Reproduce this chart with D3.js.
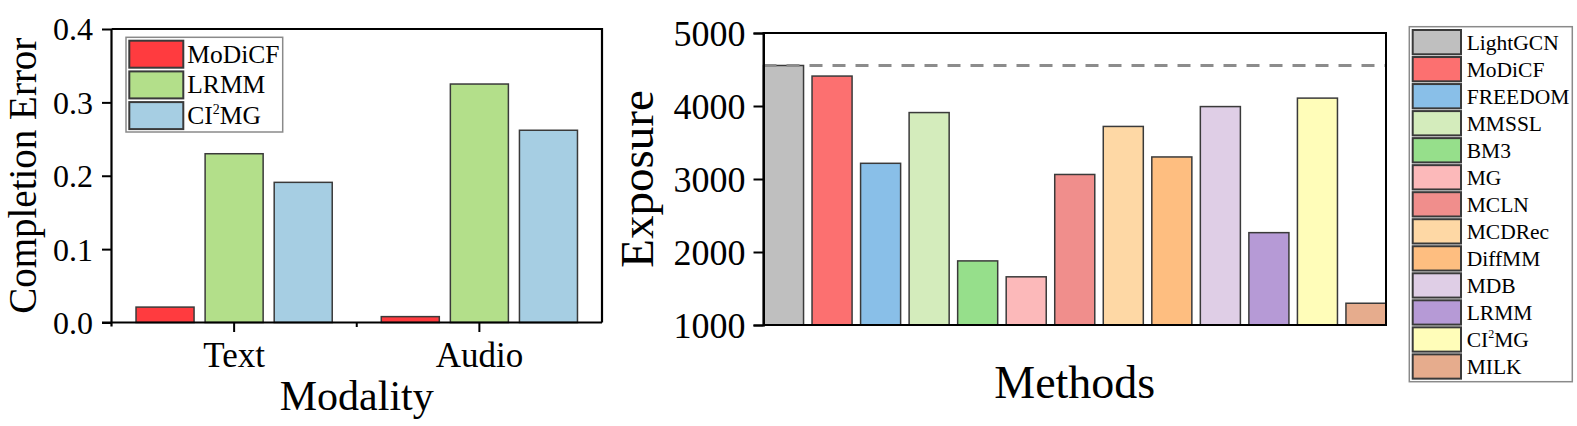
<!DOCTYPE html>
<html><head><meta charset="utf-8">
<script src="https://cdn.jsdelivr.net/npm/d3@7"></script>
<style>
html,body{margin:0;padding:0;background:#fff;}
svg{display:block;font-family:"Liberation Serif","Times New Roman",serif;}
</style></head>
<body>
<svg id="c" width="1577" height="426"></svg>
<script>
// ---- Left chart data ----
const modalities = ["Text", "Audio"];
const errSeries = ["MoDiCF", "LRMM", "CI2MG"];
const errText = [0.021, 0.230, 0.191];
const errAudio = [0.008, 0.325, 0.262];
const errTicks = [0.0, 0.1, 0.2, 0.3, 0.4];
const errColors = ["#FF3B3F", "#B3DF8A", "#A6CEE3"];

// ---- Right chart data ----
const methods = ["LightGCN","MoDiCF","FREEDOM","MMSSL","BM3","MG","MCLN","MCDRec","DiffMM","MDB","LRMM","CI2MG","MILK"];
const exposure = [4555, 4410, 3215, 3910, 1878, 1660, 3062, 3720, 3302, 3992, 2265, 4108, 1298];
const expTicks = [1000, 2000, 3000, 4000, 5000];
const methodColors = ["#BFBFBF","#FC7070","#89BFE8","#D4ECBC","#96DF8B","#FCB9BA","#F08E8C","#FED8A5","#FEBE80","#DFCEE6","#B69AD6","#FFFDB9","#E6AC8D"];

const svg = d3.select("#c");
const barStroke = "#3a3a3a";

function labelText(sel, name, sup) {
  if (name === "CI2MG") {
    sel.append("tspan").text("CI");
    sel.append("tspan").text("2").attr("font-size", sup).attr("dy", -sup * 0.7);
    sel.append("tspan").text("MG").attr("dy", sup * 0.7);
  } else sel.text(name);
}

// ================= LEFT CHART =================
{
  const L = 111.5, R = 602, T = 29, B = 322.5;
  const x0 = d3.scaleBand().domain(modalities).range([L, R]);
  const x1 = d3.scaleBand().domain(errSeries).range([0, x0.bandwidth()]).paddingInner(0.16).paddingOuter(0.355);
  const y = d3.scaleLinear().domain([0, 0.4]).range([B, T]);
  const g = svg.append("g");
  const rows = [errText, errAudio];

  modalities.forEach((m, mi) => {
    errSeries.forEach((s, si) => {
      g.append("rect")
        .attr("x", x0(m) + x1(s))
        .attr("y", y(rows[mi][si]))
        .attr("width", x1.bandwidth())
        .attr("height", B - y(rows[mi][si]))
        .attr("fill", errColors[si])
        .attr("stroke", barStroke).attr("stroke-width", 1.5);
    });
  });

  g.append("path").attr("d", `M${L},${T}H${R}V${B}`).attr("fill", "none").attr("stroke", "#000").attr("stroke-width", 2.2);

  const ya = g.append("g").attr("transform", `translate(${L},0)`)
    .call(d3.axisLeft(y).tickValues(errTicks).tickFormat(d3.format(".1f")).tickSize(9.5).tickPadding(9));
  ya.select(".domain").attr("stroke-width", 2.2).attr("d", `M0,${T}V${B + 4}`);
  ya.selectAll(".tick line").attr("stroke-width", 2);
  ya.selectAll("text").attr("font-size", 32).attr("font-family", "Liberation Serif").attr("fill", "#000").attr("dy", "0.34em");

  const xa = g.append("g").attr("transform", `translate(0,${B})`)
    .call(d3.axisBottom(x0).tickSize(9.5).tickPadding(12));
  xa.select(".domain").attr("stroke-width", 2.2).attr("d", `M${L - 9.5},0H${R}`);
  xa.selectAll(".tick line").attr("stroke-width", 2);
  xa.selectAll("text").attr("font-size", 35).attr("font-family", "Liberation Serif").attr("fill", "#000").attr("dy", "0.66em");
  g.append("line").attr("x1", (L + R) / 2).attr("x2", (L + R) / 2).attr("y1", B).attr("y2", B + 4.5)
    .attr("stroke", "#000").attr("stroke-width", 2);

  g.append("text").attr("x", (L + R) / 2).attr("y", 410).attr("text-anchor", "middle")
    .attr("font-size", 42).text("Modality");
  g.append("text").attr("transform", `translate(36,${(T + B) / 2}) rotate(-90)`).attr("text-anchor", "middle")
    .attr("font-size", 39).text("Completion Error");

  const lg = g.append("g");
  lg.append("rect").attr("x", 126).attr("y", 37.3).attr("width", 156.7).attr("height", 94.7)
    .attr("fill", "#fff").attr("stroke", "#8a8a8a").attr("stroke-width", 1.5);
  errSeries.forEach((s, i) => {
    const ty = 40.7 + i * 30.7;
    lg.append("rect").attr("x", 129.3).attr("y", ty).attr("width", 54).attr("height", 27)
      .attr("fill", errColors[i]).attr("stroke", barStroke).attr("stroke-width", 2);
    const t = lg.append("text").attr("x", 187.3).attr("y", ty + 22).attr("font-size", 25.5);
    labelText(t, s, 14);
  });
}

// ================= RIGHT CHART =================
{
  const L = 763.5, R = 1386, T = 33, B = 325;
  const x = d3.scaleBand().domain(methods).range([L, R]).paddingInner(0.175).paddingOuter(0);
  const y = d3.scaleLinear().domain([1000, 5000]).range([B, T]);
  const g = svg.append("g");

  methods.forEach((m, i) => {
    g.append("rect")
      .attr("x", x(m)).attr("y", y(exposure[i]))
      .attr("width", x.bandwidth()).attr("height", B - y(exposure[i]))
      .attr("fill", methodColors[i]).attr("stroke", barStroke).attr("stroke-width", 1.5);
  });

  g.append("line").attr("x1", L).attr("x2", R).attr("y1", y(exposure[0])).attr("y2", y(exposure[0]))
    .attr("stroke", "#8c8c8c").attr("stroke-width", 2.8).attr("stroke-dasharray", "13,10");

  g.append("rect").attr("x", L).attr("y", T).attr("width", R - L).attr("height", B - T)
    .attr("fill", "none").attr("stroke", "#000").attr("stroke-width", 2);

  const ya = g.append("g").attr("transform", `translate(${L},0)`)
    .call(d3.axisLeft(y).tickValues(expTicks).tickFormat(d3.format("d")).tickSize(10).tickPadding(8));
  ya.select(".domain").attr("stroke-width", 2);
  ya.selectAll(".tick line").attr("stroke-width", 2);
  ya.selectAll("text").attr("font-size", 36).attr("font-family", "Liberation Serif").attr("fill", "#000").attr("dy", "0.34em");

  g.append("text").attr("x", (L + R) / 2).attr("y", 398).attr("text-anchor", "middle")
    .attr("font-size", 46).text("Methods");
  g.append("text").attr("transform", `translate(653,${(T + B) / 2}) rotate(-90)`).attr("text-anchor", "middle")
    .attr("font-size", 47).text("Exposure");

  const lg = g.append("g");
  lg.append("rect").attr("x", 1409.3).attr("y", 26.7).attr("width", 163).attr("height", 355)
    .attr("fill", "#fff").attr("stroke", "#8a8a8a").attr("stroke-width", 1.5);
  methods.forEach((m, i) => {
    const ty = 30 + i * 27.03;
    lg.append("rect").attr("x", 1412.7).attr("y", ty).attr("width", 48.3).attr("height", 24.3)
      .attr("fill", methodColors[i]).attr("stroke", barStroke).attr("stroke-width", 2);
    const t = lg.append("text").attr("x", 1466.7).attr("y", ty + 19.5).attr("font-size", 21.5);
    labelText(t, m, 12);
  });
}
</script>
</body></html>
